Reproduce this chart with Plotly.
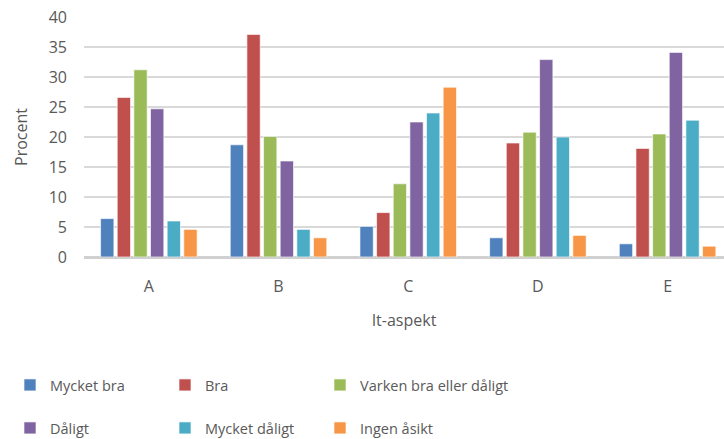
import plotly.graph_objects as go

categories = ["A", "B", "C", "D", "E"]
series_names = ["Mycket bra", "Bra", "Varken bra eller dåligt", "Dåligt", "Mycket dåligt", "Ingen åsikt"]
mycket_bra = [6.4, 18.7, 5.1, 3.2, 2.2]
bra = [26.6, 37.1, 7.4, 19.0, 18.1]
varken = [31.2, 20.1, 12.2, 20.8, 20.5]
daligt = [24.7, 16.0, 22.5, 32.9, 34.1]
mycket_daligt = [6.0, 4.6, 24.0, 20.0, 22.8]
ingen_asikt = [4.6, 3.2, 28.3, 3.6, 1.8]
y_ticks = [0, 5, 10, 15, 20, 25, 30, 35, 40]

series_values = [mycket_bra, bra, varken, daligt, mycket_daligt, ingen_asikt]
colors = ["#4F81BD", "#C0504D", "#9BBB59", "#8064A2", "#4BACC6", "#F79646"]
legend_ids = ["legend", "legend", "legend3", "legend2", "legend2", "legend4"]

FONT = "Open Sans"
TXT = "#595959"

fig = go.Figure()
for name, vals, col, lg in zip(series_names, series_values, colors, legend_ids):
    fig.add_trace(go.Bar(
        x=categories, y=vals, name=name, legend=lg,
        marker=dict(color=col, line=dict(color="rgba(255,255,255,0.8)", width=0.8)),
    ))

W, H = 724, 439
L, R, T, B = 84, 0, 17, 182
ph = H - T - B

def py(px):
    return (H - B - px) / ph

def pxx(px):
    return (px - L) / (W - L - R)

legend_common = dict(
    orientation="h",
    font=dict(family=FONT, size=14.5, color=TXT),
    xanchor="left", yanchor="middle", bgcolor="rgba(0,0,0,0)",
    itemwidth=30, tracegroupgap=0,
)
two_col = dict(entrywidth=110, entrywidthmode="pixels", **legend_common)

fig.update_layout(
    width=W, height=H,
    margin=dict(l=L, r=R, t=T, b=B, autoexpand=False),
    paper_bgcolor="white", plot_bgcolor="white",
    barmode="group", bargap=0.23, bargroupgap=0.2,
    font=dict(family=FONT, color=TXT, size=16),
    showlegend=True,
    legend=dict(x=pxx(10), y=py(385), **two_col),
    legend2=dict(x=pxx(10), y=py(428), **two_col),
    legend3=dict(x=pxx(320), y=py(385), **legend_common),
    legend4=dict(x=pxx(320), y=py(428), **legend_common),
    xaxis=dict(
        range=[-0.5, 4.435], showgrid=False, zeroline=False, automargin=False,
        showline=False, ticks="", ticklabelstandoff=18,
        tickfont=dict(family=FONT, size=16, color=TXT),
        title=dict(text="It-aspekt", standoff=18, font=dict(family=FONT, size=16, color=TXT)),
    ),
    yaxis=dict(
        range=[0, 40], tickvals=y_ticks, showgrid=True, gridcolor="#D9D9D9", gridwidth=1.5,
        zeroline=True, zerolinecolor="#D0D0D0", zerolinewidth=2.5, automargin=False,
        showline=False, ticks="", ticklabelstandoff=16,
        tickfont=dict(family=FONT, size=16, color=TXT),
        title=dict(text="Procent", standoff=17, font=dict(family=FONT, size=16, color=TXT)),
    ),
)

fig.write_html(
    "out.html",
    config={"displayModeBar": False},
    post_script="document.body.style.margin='0';document.body.style.overflow='hidden';",
)
